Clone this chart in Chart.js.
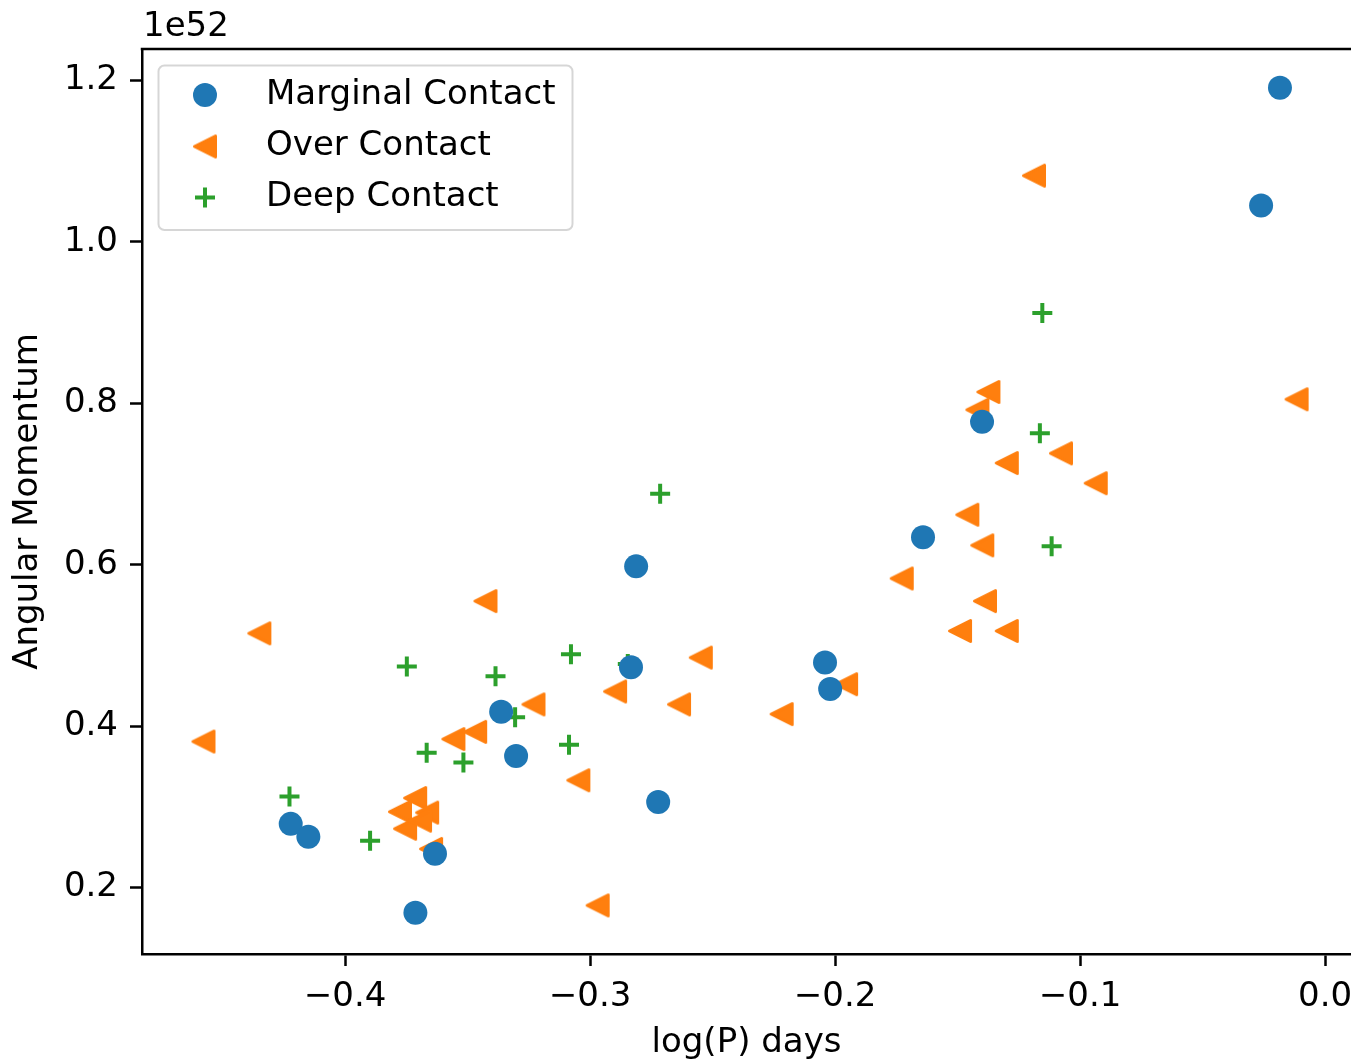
<!DOCTYPE html>
<html>
<head>
<meta charset="utf-8">
<title>Angular Momentum vs log(P)</title>
<script src="https://cdn.jsdelivr.net/npm/chart.js@4.4.1/dist/chart.umd.min.js"></script>
<style>
    html, body { margin: 0; padding: 0; background: #fff; }
    #chart { display: block; }
</style>
</head>
<body>
<canvas id="chart" width="1351" height="1060"></canvas>
<script>
// Data (angular momentum in units of 1e52)
// ----------------------------------------------
const marginalX = [-0.0184, -0.0261, -0.1400, -0.1641, -0.2812, -0.2833, -0.2041, -0.2020, -0.3363, -0.3302, -0.2722, -0.4222, -0.4150, -0.3633, -0.3713];
const marginalY = [ 1.191,   1.045,   0.777,   0.634,   0.598,   0.473,   0.479,   0.446,   0.418,   0.363,   0.306,   0.279,   0.263,   0.242,   0.169];

const overX = [-0.1188, -0.0116, -0.1374, -0.1419, -0.1299, -0.1078, -0.0936, -0.1460, -0.1399, -0.1728, -0.1388, -0.1490, -0.1299, -0.1955, -0.2218, -0.2548,
               -0.2637, -0.2898, -0.3048, -0.2969, -0.3231, -0.3427, -0.3469, -0.3558, -0.4350, -0.4578, -0.3714, -0.3776, -0.3665, -0.3755, -0.3694, -0.3649];
const overY = [ 1.082,   0.805,   0.814,   0.792,   0.726,   0.738,   0.701,   0.662,   0.624,   0.583,   0.555,   0.518,   0.518,   0.452,   0.415,   0.485,
                0.427,   0.443,   0.333,   0.178,   0.427,   0.555,   0.393,   0.384,   0.515,   0.381,   0.311,   0.294,   0.293,   0.273,   0.283,   0.248];

const deepX = [-0.1154, -0.1164, -0.1116, -0.2714, -0.3078, -0.2846, -0.3386, -0.3306, -0.3086, -0.3748, -0.3667, -0.3517, -0.4227, -0.3898];
const deepY = [ 0.912,   0.763,   0.623,   0.688,   0.489,   0.477,   0.462,   0.411,   0.377,   0.474,   0.367,   0.355,   0.313,   0.258];

const seriesLabels = ['Marginal Contact', 'Over Contact', 'Deep Contact'];
const xTicks = [-0.4, -0.3, -0.2, -0.1, 0.0];
const yTicks = [0.2, 0.4, 0.6, 0.8, 1.0, 1.2];
const offsetLabel = '1e52';
const xTitle = 'log(P) days';
const yTitle = 'Angular Momentum';


// Styles
// ----------------------------------------------
const blue   = '#1f77b4';
const orange = '#ff7f0e';
const green  = '#2ca02c';
const fontFamily = '"DejaVu Sans", sans-serif';
const fontSize = 34;

const toPoints = (xs, ys) => xs.map((x, i) => ({ x: x, y: ys[i] }));
const fmt = v => (v < 0 ? '\u2212' : '') + Math.abs(v).toFixed(1);

// matplotlib-like '<' marker
const triangleMarker = (() => {
    const c = document.createElement('canvas');
    c.width = 28; c.height = 28;
    const g = c.getContext('2d');
    g.fillStyle = orange; g.strokeStyle = orange;
    g.lineWidth = 3; g.lineJoin = 'round';
    g.beginPath();
    g.moveTo(3.5, 14); g.lineTo(24.5, 3.5); g.lineTo(24.5, 24.5);
    g.closePath(); g.fill(); g.stroke();
    return c;
})();


// Frame, offset text and legend
// ----------------------------------------------
const extrasPlugin = {
    id: 'extras',
    afterDraw(chart) {
        const { ctx, chartArea: a } = chart;
        ctx.save();

        // top spine
        ctx.strokeStyle = '#000';
        ctx.lineWidth = 2.5;
        ctx.beginPath();
        ctx.moveTo(a.left - 1.25, a.top);
        ctx.lineTo(a.right, a.top);
        ctx.stroke();

        // scale offset
        ctx.fillStyle = '#000';
        ctx.font = fontSize + 'px ' + fontFamily;
        ctx.textAlign = 'left';
        ctx.textBaseline = 'alphabetic';
        ctx.fillText(offsetLabel, 143, 36);

        // legend box
        const bx = 158.5, by = 65.5, bw = 414, bh = 164.5, r = 6;
        ctx.beginPath();
        ctx.moveTo(bx + r, by);
        ctx.arcTo(bx + bw, by, bx + bw, by + bh, r);
        ctx.arcTo(bx + bw, by + bh, bx, by + bh, r);
        ctx.arcTo(bx, by + bh, bx, by, r);
        ctx.arcTo(bx, by, bx + bw, by, r);
        ctx.closePath();
        ctx.fillStyle = 'rgba(255,255,255,0.8)';
        ctx.fill();
        ctx.strokeStyle = 'rgba(204,204,204,0.8)';
        ctx.lineWidth = 2;
        ctx.stroke();

        const rows = [95, 146.5, 197.5];
        chart.data.datasets.forEach((ds, i) => {
            const mx = 205, my = rows[i];
            if (ds.pointStyle === 'circle') {
                ctx.fillStyle = ds.backgroundColor;
                ctx.beginPath();
                ctx.arc(mx, my, ds.pointRadius, 0, Math.PI * 2);
                ctx.fill();
            } else if (ds.pointStyle === 'cross') {
                ctx.strokeStyle = ds.borderColor;
                ctx.lineWidth = ds.pointBorderWidth;
                ctx.beginPath();
                ctx.moveTo(mx - ds.pointRadius, my); ctx.lineTo(mx + ds.pointRadius, my);
                ctx.moveTo(mx, my - ds.pointRadius); ctx.lineTo(mx, my + ds.pointRadius);
                ctx.stroke();
            } else {
                const s = ds.pointStyle;
                ctx.drawImage(s, mx - s.width / 2, my - s.height / 2);
            }
            ctx.fillStyle = '#000';
            ctx.textBaseline = 'middle';
            ctx.fillText(ds.label, 266, my);
        });

        ctx.restore();
    }
};


// Scatter chart
// ----------------------------------------------
const scatterChart = new Chart(
    document.getElementById('chart'), {
        type: 'scatter',
        data: {
            datasets: [
                {
                    label: seriesLabels[0],
                    data: toPoints(marginalX, marginalY),
                    pointStyle: 'circle',
                    pointRadius: 12,
                    pointBorderWidth: 0,
                    backgroundColor: blue,
                    borderColor: blue
                },
                {
                    label: seriesLabels[1],
                    data: toPoints(overX, overY),
                    pointStyle: triangleMarker,
                    pointRadius: 12,
                    pointBorderWidth: 0,
                    backgroundColor: orange,
                    borderColor: orange
                },
                {
                    label: seriesLabels[2],
                    data: toPoints(deepX, deepY),
                    pointStyle: 'cross',
                    pointRadius: 10,
                    pointBorderWidth: 4,
                    backgroundColor: green,
                    borderColor: green
                }
            ]
        },
        options: {
            responsive: false,
            animation: false,
            events: [],
            layout: {
                autoPadding: false,
                padding: { top: 49, left: 0, right: 0, bottom: 0 }
            },
            plugins: {
                legend: { display: false },
                tooltip: { enabled: false }
            },
            scales: {
                x: {
                    type: 'linear',
                    min: -0.4829,
                    max: 0.0106,
                    afterBuildTicks: s => { s.ticks = xTicks.map(v => ({ value: v })); },
                    afterFit: s => { s.height = 106; s.paddingLeft = 0; s.paddingRight = 0; },
                    grid: {
                        drawOnChartArea: false,
                        tickLength: 12,
                        tickWidth: 2.5,
                        tickColor: '#000'
                    },
                    border: { display: true, color: '#000', width: 2.5 },
                    ticks: {
                        font: { family: fontFamily, size: fontSize },
                        color: '#000',
                        padding: 11,
                        maxRotation: 0,
                        autoSkip: false,
                        callback: v => fmt(v)
                    },
                    title: {
                        display: true,
                        text: xTitle,
                        color: '#000',
                        font: { family: fontFamily, size: fontSize, lineHeight: 1 },
                        padding: { top: 0, bottom: 0 }
                    }
                },
                y: {
                    type: 'linear',
                    min: 0.1178,
                    max: 1.2389,
                    afterBuildTicks: s => { s.ticks = yTicks.map(v => ({ value: v })); },
                    afterFit: s => { s.width = 142; s.paddingTop = 0; s.paddingBottom = 0; },
                    grid: {
                        drawOnChartArea: false,
                        tickLength: 12,
                        tickWidth: 2.5,
                        tickColor: '#000'
                    },
                    border: { display: true, color: '#000', width: 2.5 },
                    ticks: {
                        font: { family: fontFamily, size: fontSize },
                        color: '#000',
                        padding: 12,
                        autoSkip: false,
                        callback: v => fmt(v)
                    },
                    title: {
                        display: true,
                        text: yTitle,
                        color: '#000',
                        font: { family: fontFamily, size: fontSize },
                        padding: { top: 8, bottom: 0 }
                    }
                }
            }
        },
        plugins: [extrasPlugin]
    }
);
</script>
</body>
</html>
